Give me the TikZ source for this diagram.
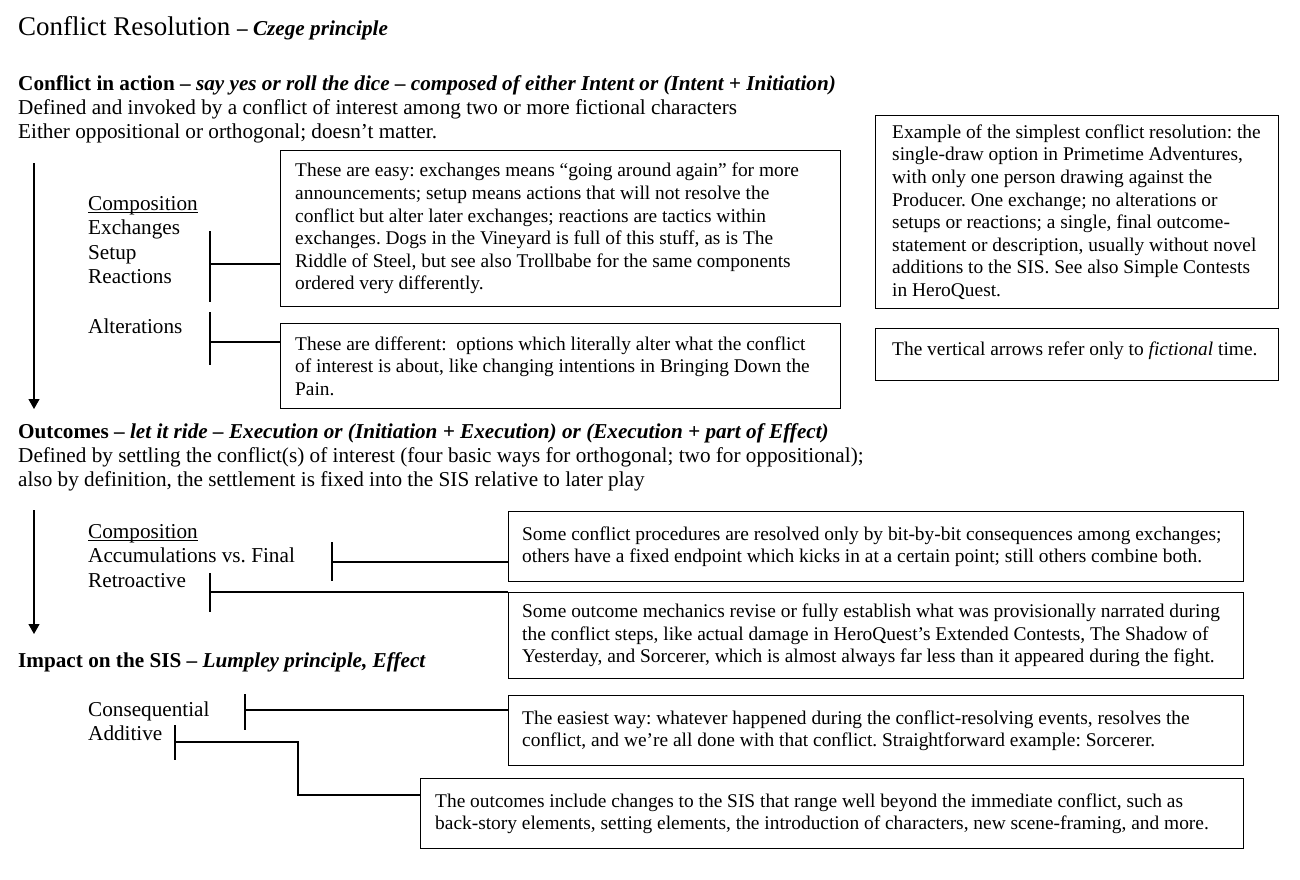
\documentclass[tikz,border=0pt]{standalone}
\usepackage{fontspec}
\setmainfont{Liberation Serif}
\usepackage{tikz}
\usetikzlibrary{
  arrows.meta,
  positioning,
  calc,
}
\frenchspacing
\newcommand{\titlesize}{\fontsize{27}{30}\selectfont}
\newcommand{\mainsize}{\fontsize{21.2}{24}\selectfont}
\newcommand{\notesize}{\fontsize{19.4}{22.6}\selectfont}
% underline that sits close to the baseline
\newcommand{\underword}[1]{\setbox0\hbox{#1}\rlap{\rule[-2.6pt]{\wd0}{1pt}}\box0}

\begin{document}
\begin{tikzpicture}[
    x=1pt, y=-1pt,
    maintext/.style={font=\mainsize, align=left, anchor=west, inner sep=0},
    labeltext/.style={font=\fontsize{21.2}{24.5}\selectfont, align=left, anchor=west, inner sep=0},
    notebox/.style={draw, line width=1.2pt, anchor=north west, inner sep=0},
    notetext/.style={font=\notesize, align=left, anchor=west, inner sep=0},
    bar/.style={line width=1.2pt},
    timeline/.style={line width=1.2pt, -{Triangle[length=10pt,width=11pt]}},
  ]
  \useasboundingbox (0,0) rectangle (1300,880);

  % Headings
  \node[maintext, font=\titlesize] (title) at (18,28)
    {Conflict Resolution {\mainsize\bfseries – \textit{Czege principle}}};
  \node[maintext] (action) at (18,109)
    {\textbf{Conflict in action – \textit{say yes or roll the dice – composed of either Intent or (Intent + Initiation)}}\\
     Defined and invoked by a conflict of interest among two or more fictional characters\\
     Either oppositional or orthogonal; doesn’t matter.};
  \node[maintext] (outcomes) at (18,457)
    {\textbf{Outcomes – \textit{let it ride – Execution or (Initiation + Execution) or (Execution + part of Effect)}}\\
     Defined by settling the conflict(s) of interest (four basic ways for orthogonal; two for oppositional);\\
     also by definition, the settlement is fixed into the SIS relative to later play};
  \node[maintext] (impact) at (18,662)
    {\textbf{Impact on the SIS – \textit{Lumpley principle, Effect}}};

  % Fictional time arrows
  \coordinate (t1s) at (34,163);
  \coordinate (t1e) at (34,409);
  \coordinate (t2s) at (34,510);
  \coordinate (t2e) at (34,634);
  \draw[timeline] (t1s) -- (t1e);
  \draw[timeline] (t2s) -- (t2e);

  % Left labels
  \node[labeltext] (comp1) at (88,240)
    {\underword{Composition}\\ Exchanges\\ Setup\\ Reactions};
  \node[labeltext] (alt) at (88,326) {Alterations};
  \node[labeltext] (comp2) at (88,556)
    {\underword{Composition}\\ Accumulations vs. Final\\ Retroactive};
  \node[labeltext] (comp3) at (88,721)
    {Consequential\\ Additive};

  % Note boxes
  \node[notebox, minimum width=560, minimum height=156] (easy) at (280,150) {};
  \node[notetext] (easytxt) at ([xshift=15pt]easy.west)
    {These are easy: exchanges means “going around again” for more\\
     announcements; setup means actions that will not resolve the\\
     conflict but alter later exchanges; reactions are tactics within\\
     exchanges. Dogs in the Vineyard is full of this stuff, as is The\\
     Riddle of Steel, but see also Trollbabe for the same components\\
     ordered very differently.};

  \node[notebox, minimum width=560, minimum height=85] (alter) at (280,323) {};
  \node[notetext] (altertxt) at ([xshift=15pt]alter.west)
    {These are different:\ \ options which literally alter what the conflict\\
     of interest is about, like changing intentions in Bringing Down the\\
     Pain.};

  \node[notebox, minimum width=403, minimum height=193] (simple) at (875,115) {};
  \node[notetext] (simpletxt) at ([xshift=17pt]simple.west)
    {Example of the simplest conflict resolution: the\\
     single-draw option in Primetime Adventures,\\
     with only one person drawing against the\\
     Producer. One exchange; no alterations or\\
     setups or reactions; a single, final outcome-\\
     statement or description, usually without novel\\
     additions to the SIS. See also Simple Contests\\
     in HeroQuest.};

  \node[notebox, minimum width=403, minimum height=52] (fictime) at (875,328) {};
  \node[notetext] (fictimetxt) at ([xshift=17pt,yshift=4pt]fictime.west)
    {The vertical arrows refer only to \textit{fictional} time.};

  \node[notebox, minimum width=735, minimum height=70] (accum) at (508,511) {};
  \node[notetext] (accumtxt) at ([xshift=14pt]accum.west)
    {Some conflict procedures are resolved only by bit-by-bit consequences among exchanges;\\
     others have a fixed endpoint which kicks in at a certain point; still others combine both.};

  \node[notebox, minimum width=735, minimum height=86] (retro) at (508,592) {};
  \node[notetext] (retrotxt) at ([xshift=14pt]retro.west)
    {Some outcome mechanics revise or fully establish what was provisionally narrated during\\
     the conflict steps, like actual damage in HeroQuest’s Extended Contests, The Shadow of\\
     Yesterday, and Sorcerer, which is almost always far less than it appeared during the fight.};

  \node[notebox, minimum width=735, minimum height=70] (conseq) at (508,695) {};
  \node[notetext] (conseqtxt) at ([xshift=14pt]conseq.west)
    {The easiest way: whatever happened during the conflict-resolving events, resolves the\\
     conflict, and we’re all done with that conflict. Straightforward example: Sorcerer.};

  \node[notebox, minimum width=823, minimum height=70] (additive) at (420,778) {};
  \node[notetext] (additivetxt) at ([xshift=15pt]additive.west)
    {The outcomes include changes to the SIS that range well beyond the immediate conflict, such as\\
     back-story elements, setting elements, the introduction of characters, new scene-framing, and more.};

  % Brackets
  \coordinate (b1) at (210,264);
  \coordinate (b2) at (210,342);
  \coordinate (b3) at (332,562);
  \coordinate (b4) at (210,592);
  \coordinate (b5) at (245,710);
  \coordinate (b6) at (175,742);
  \coordinate (k6) at (298,795);
  \draw[bar] (b1) ++(0,-33) -- ++(0,71);
  \draw[bar] (b2) ++(0,-30) -- ++(0,53);
  \draw[bar] (b3) ++(0,-20) -- ++(0,39);
  \draw[bar] (b4) ++(0,-19) -- ++(0,39);
  \draw[bar] (b5) ++(0,-16) -- ++(0,36);
  \draw[bar] (b6) ++(0,-17) -- ++(0,35);
  \draw[bar] (b1) -- (b1 -| easy.west);
  \draw[bar] (b2) -- (b2 -| alter.west);
  \draw[bar] (b3) -- (b3 -| accum.west);
  \draw[bar] (b4) -- (retro.north west);
  \draw[bar] (b5) -- (b5 -| conseq.west);
  \draw[bar] (b6) -| (k6) -- (k6 -| additive.west);
\end{tikzpicture}
\end{document}
